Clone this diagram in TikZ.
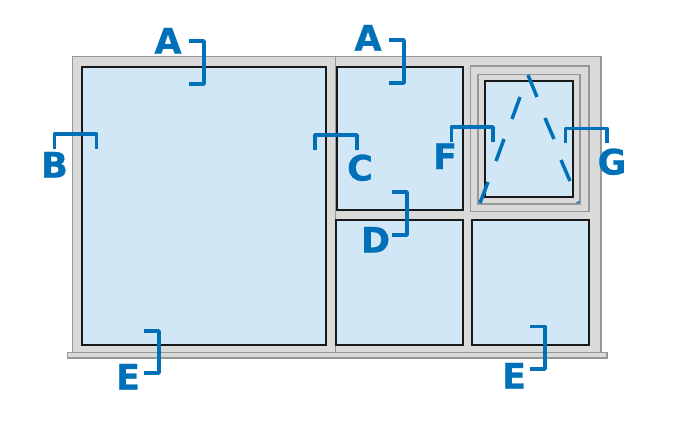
\documentclass[tikz,border=0pt]{standalone}
\usepackage{fontspec}
\setmainfont{DejaVu Sans}
\newfontfamily\calloutfont[FakeBold=0.8]{DejaVu Sans Bold}
\definecolor{glass}{HTML}{D1E7F5}
\definecolor{framefill}{HTML}{DADADA}
\definecolor{edge}{HTML}{979797}
\definecolor{callout}{HTML}{0071B9}
\tikzset{
  framebox/.style={fill=framefill,draw=edge,line width=1.3pt},
  sash/.style={draw=edge,line width=1.3pt},
  pane/.style={fill=glass,draw=black!90,line width=2pt},
  bracket/.style={draw=callout,line width=3.5pt,line join=round},
  swing/.style={draw=callout,line width=3.5pt},
  letter/.style={text=callout,font=\fontsize{35}{35}\selectfont\calloutfont,anchor=base,inner sep=0pt}
}
\begin{document}
\begin{tikzpicture}[x=1pt,y=-1pt]
\useasboundingbox (0,0) rectangle (680,440);
\fill[white] (0,0) rectangle (680,440);
% frame and sill
\draw[framebox] (72.5,56.5) rectangle (601,352.5);
\draw[framebox] (67.5,352.5) rectangle (607,358);
\draw[sash] (335.5,56.5) -- (335.5,352.5);
\draw[sash] (470.5,66) rectangle (589,211.5);
\draw[sash] (478,74.5) rectangle (580,204);
% panes
\draw[pane] (81.5,66.5) rectangle (326,345);
\draw[pane] (336.5,66.5) rectangle (463,210);
\draw[pane] (335.5,219.5) rectangle (462.5,344.5);
\draw[pane] (472,220) rectangle (588.5,344.5);
\draw[pane] (484.5,80.5) rectangle (572.5,197);
% opening indication
\draw[swing] (480,203) -- (488,182);
\draw[swing] (496,161) -- (504,139);
\draw[swing] (512,119) -- (520,97);
\draw[swing] (528,75) -- (537,97);
\draw[swing] (545,118) -- (554,139);
\draw[swing] (561,160) -- (570,181);
\draw[callout,line width=1.2pt] (576.5,203) -- (579.5,201.5);
% brackets
\draw[bracket] (189,41) -- (204,41) -- (204,84) -- (189,84);
\draw[bracket] (389,40) -- (404,40) -- (404,83) -- (389,83);
\draw[bracket] (54.5,149) -- (54.5,134) -- (96.5,134) -- (96.5,149);
\draw[bracket] (315,150) -- (315,135) -- (357,135) -- (357,150);
\draw[bracket] (392,192) -- (407,192) -- (407,235) -- (392,235);
\draw[bracket] (144,331) -- (159,331) -- (159,373) -- (144,373);
\draw[bracket] (530,326.5) -- (545,326.5) -- (545,369) -- (530,369);
\draw[bracket] (451.5,142) -- (451.5,127) -- (493,127) -- (493,142);
\draw[bracket] (565.5,143) -- (565.5,128.5) -- (607,128.5) -- (607,143);
% labels
\node[letter] (la1) at (168,53.5) {A};
\node[letter] (la2) at (368,50.5) {A};
\node[letter] (lb) at (54.5,177.5) {B};
\node[letter] (lc) at (360,180.5) {C};
\node[letter] (ld) at (375.5,252.5) {D};
\node[letter] (le1) at (128,389.5) {E};
\node[letter] (le2) at (514,388.5) {E};
\node[letter] (lf) at (445,169) {F};
\node[letter] (lg) at (612,174.5) {G};
\end{tikzpicture}
\end{document}
